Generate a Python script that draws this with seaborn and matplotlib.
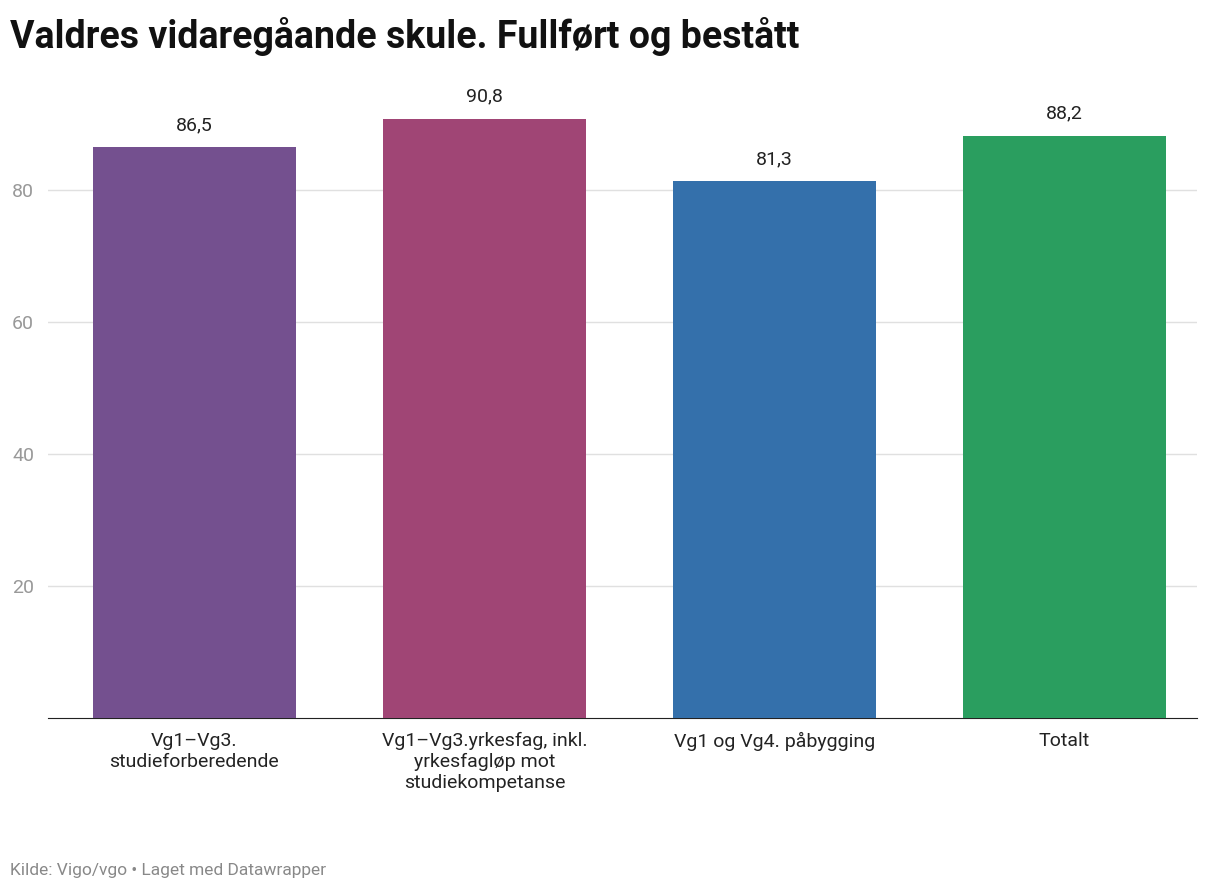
import matplotlib
matplotlib.use("Agg")
import matplotlib.pyplot as plt
import seaborn as sns
import pandas as pd

categories = ["Vg1–Vg3.\nstudieforberedende",
              "Vg1–Vg3.yrkesfag, inkl.\nyrkesfagløp mot\nstudiekompetanse",
              "Vg1 og Vg4. påbygging",
              "Totalt"]
values = [86.5, 90.8, 81.3, 88.2]
colors = ["#74508f", "#a04575", "#3470ab", "#2a9e5f"]
yticks = [20, 40, 60, 80]

plt.rcParams["font.family"] = "Roboto"
df = pd.DataFrame({"kat": categories, "verdi": values})

fig = plt.figure(figsize=(12.2, 8.94), dpi=100)
ax = fig.add_axes([48/1220, 1-718/894, 1149/1220, (718-95)/894])
sns.barplot(data=df, x="kat", y="verdi", hue="kat", palette=colors,
            width=0.7, saturation=1, legend=False, ax=ax, zorder=3)
ax.set_xlim(-0.505, 3.457)
ax.set_ylim(0, (718-95)/6.6)
ax.set_yticks(yticks)
ax.set_yticklabels([str(t) for t in yticks], color="#999999", fontsize=14)
ax.grid(axis="y", color="#e0e0e0", lw=1, zorder=0)
for s in ["top", "right", "left"]:
    ax.spines[s].set_visible(False)
ax.spines["bottom"].set_color("#222222")
ax.tick_params(axis="y", length=0, pad=10)
ax.tick_params(axis="x", length=0, pad=10, labelsize=14, colors="#222222")
ax.set_xlabel("")
ax.set_ylabel("")
for i, v in enumerate(values):
    ax.text(i, v + 2, f"{v:.1f}".replace(".", ","), ha="center", va="bottom",
            fontsize=14, color="#222222")

fig.text(10/1220, 1-37/894, "Valdres vidaregåande skule. Fullført og bestått",
         fontsize=27, fontweight="bold", va="center", color="#111111")
fig.text(10/1220, 1-870/894, "Kilde: Vigo/vgo • Laget med Datawrapper",
         fontsize=12.5, va="center", color="#888888")
fig.savefig("out.png", dpi=100)
